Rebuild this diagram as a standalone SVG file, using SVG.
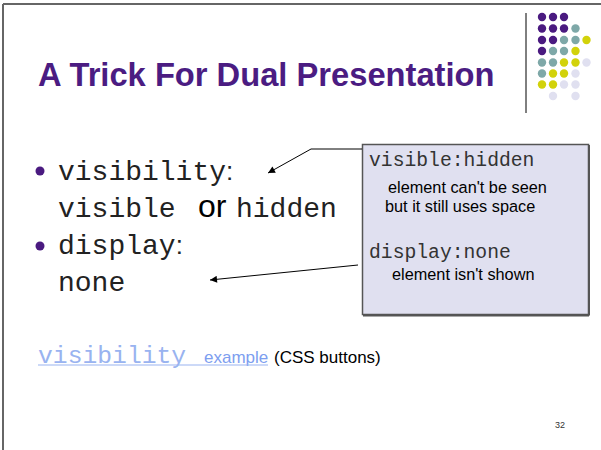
<svg xmlns="http://www.w3.org/2000/svg" width="601" height="450" viewBox="0 0 601 450">
<defs>
<style>
.mono{font-family:"Liberation Mono","Courier New",monospace;}
.sans{font-family:"Liberation Sans",Arial,sans-serif;}
.p{fill:#4a1a80}.t{fill:#7ea8a8}.y{fill:#d2d20a}.l{fill:#e0e0f0}
.conn{stroke:#000;stroke-width:1;fill:none}
</style>
<marker id="ah" viewBox="0 0 10 10" refX="10" refY="5" markerWidth="9" markerHeight="7" markerUnits="userSpaceOnUse" orient="auto">
<path d="M0,0 L10,5 L0,10 Z" fill="#000"/>
</marker>
</defs>
<rect x="0" y="0" width="601" height="450" fill="#fff"/>
<g id="frame">
<line x1="3" y1="4" x2="601" y2="4" stroke="#333" stroke-width="1.5"/>
<line x1="3" y1="4" x2="3" y2="450" stroke="#666" stroke-width="2"/>
</g>
<g id="logo">
<line x1="526" y1="13" x2="526" y2="113" stroke="#000" stroke-width="1"/>
<g>
<circle class="p" cx="542" cy="17" r="4.2"/><circle class="p" cx="553" cy="17" r="4.2"/><circle class="p" cx="564" cy="17" r="4.2"/>
<circle class="p" cx="542" cy="28.5" r="4.2"/><circle class="p" cx="553" cy="28.5" r="4.2"/><circle class="p" cx="564" cy="28.5" r="4.2"/><circle class="t" cx="575.5" cy="28.5" r="4.2"/>
<circle class="p" cx="542" cy="40" r="4.2"/><circle class="p" cx="553" cy="40" r="4.2"/><circle class="t" cx="564" cy="40" r="4.2"/><circle class="t" cx="575.5" cy="40" r="4.2"/><circle class="y" cx="586.5" cy="40" r="4.2"/>
<circle class="p" cx="542" cy="51" r="4.2"/><circle class="t" cx="553" cy="51" r="4.2"/><circle class="t" cx="564" cy="51" r="4.2"/><circle class="y" cx="575.5" cy="51" r="4.2"/>
<circle class="t" cx="542" cy="62.5" r="4.2"/><circle class="t" cx="553" cy="62.5" r="4.2"/><circle class="y" cx="564" cy="62.5" r="4.2"/><circle class="y" cx="575.5" cy="62.5" r="4.2"/><circle class="l" cx="586.5" cy="62.5" r="4.2"/>
<circle class="t" cx="542" cy="73.5" r="4.2"/><circle class="y" cx="553" cy="73.5" r="4.2"/><circle class="y" cx="564" cy="73.5" r="4.2"/><circle class="l" cx="575.5" cy="73.5" r="4.2"/>
<circle class="y" cx="542" cy="84.5" r="4.2"/><circle class="y" cx="553" cy="84.5" r="4.2"/><circle class="l" cx="564" cy="84.5" r="4.2"/><circle class="l" cx="575.5" cy="84.5" r="4.2"/>
<circle class="l" cx="553" cy="96" r="4.2"/><circle class="l" cx="575.5" cy="96" r="4.2"/>
</g>
</g>
<g id="title">
<text x="38" y="86" class="sans" font-size="32.7" font-weight="bold" fill="#4b1c82">A Trick For Dual Presentation</text>
</g>
<g id="bullets">
<circle cx="40" cy="171" r="4.5" fill="#4a1a80"/>
<text x="58" y="180" class="mono" font-size="28" fill="#222">visibility<tspan class="sans" font-size="26">:</tspan></text>
<text x="58" y="217" class="mono" font-size="28" fill="#222">visible <tspan class="sans" font-size="32" x="198" fill="#000">or</tspan><tspan x="236">hidden</tspan></text>
<circle cx="40" cy="246" r="4.5" fill="#4a1a80"/>
<text x="58" y="254" class="mono" font-size="28" fill="#222">display<tspan class="sans" font-size="26">:</tspan></text>
<text x="58" y="291" class="mono" font-size="28" fill="#222">none</text>
</g>
<g id="note-box">
<rect x="362.5" y="144.5" width="226" height="170" fill="#e0e0f0" stroke="#555" stroke-width="1.5"/>
<line x1="589" y1="145" x2="589" y2="315.5" stroke="#555" stroke-width="2"/>
<line x1="363" y1="315.5" x2="589" y2="315.5" stroke="#555" stroke-width="2"/>
<text x="369" y="166" class="mono" font-size="19.7" fill="#333">visible:hidden</text>
<text x="388" y="193" class="sans" font-size="16.3" fill="#000">element can't be seen</text>
<text x="385" y="212" class="sans" font-size="16.3" fill="#000">but it still uses space</text>
<text x="369" y="258" class="mono" font-size="19.7" fill="#333">display:none</text>
<text x="392" y="280" class="sans" font-size="16.3" fill="#000">element isn't shown</text>
</g>
<g id="connectors">
<polyline class="conn" points="362,149 311,149 268,173" marker-end="url(#ah)"/>
<line class="conn" x1="358" y1="265" x2="210" y2="280" marker-end="url(#ah)"/>
</g>
<g id="link">
<text x="38" y="363" class="mono" font-size="24.7" fill="#99b3f0">visibility</text>
<text x="204" y="363" class="sans" font-size="17" fill="#7d9ef0">example</text>
<line x1="38" y1="365" x2="268" y2="365" stroke="#99b3f0" stroke-width="1"/>
<text x="274" y="363" class="sans" font-size="17" fill="#000">(CSS buttons)</text>
</g>
<g id="page-number">
<text x="555" y="428" class="sans" font-size="9" fill="#333">32</text>
</g>
</svg>
